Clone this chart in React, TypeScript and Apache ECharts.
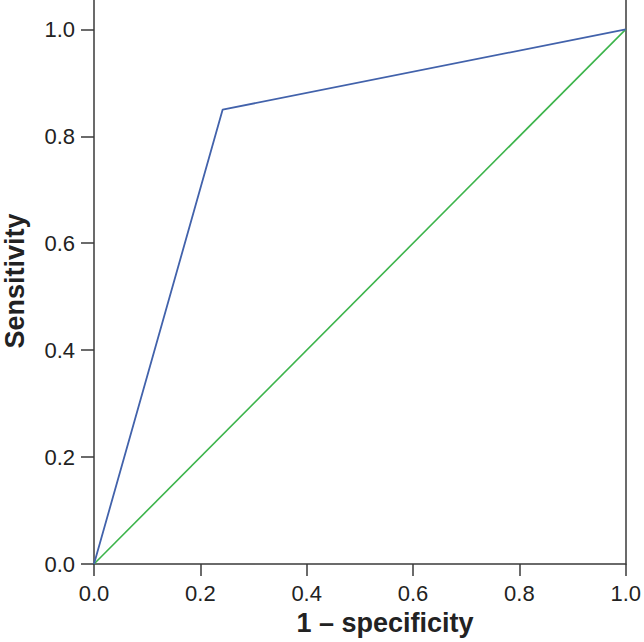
import React, { useEffect, useRef } from "react";
import * as echarts from "echarts";

const rocBlue: [number, number][] = [
  [0, 0],
  [0.242, 0.85],
  [1, 1],
];
const reference: [number, number][] = [
  [0, 0],
  [1, 1],
];
const tickValues = [0, 0.2, 0.4, 0.6, 0.8, 1.0];
const xTitle = "1 – specificity";
const yTitle = "Sensitivity";

export default function App() {
  const ref = useRef<HTMLDivElement>(null);
  useEffect(() => {
    if (!ref.current) return;
    const chart = echarts.init(ref.current, undefined, { renderer: "svg" });
    const axisColor = "#3a3a3a";
    const labelColor = "#222";
    const font = "'Liberation Sans', Arial, sans-serif";
    chart.setOption({
      animation: false,
      backgroundColor: "#fff",
      grid: { left: 94, right: 15, top: 0, bottom: 78, containLabel: false },
      xAxis: {
        type: "value",
        min: 0,
        max: 1,
        interval: 0.2,
        axisLine: { show: true, lineStyle: { color: axisColor, width: 1.5 } },
        axisTick: { show: true, length: 12, lineStyle: { color: axisColor, width: 1.5 } },
        axisLabel: {
          fontSize: 22,
          color: labelColor,
          fontFamily: font,
          margin: 18,
          formatter: (v: number) => v.toFixed(1),
        },
        splitLine: { show: false },
      },
      yAxis: [
        {
          type: "value",
          min: 0,
          max: 1.055,
          axisLine: { show: true, lineStyle: { color: axisColor, width: 1.5 } },
          axisTick: {
            show: true,
            length: 13,
            customValues: tickValues,
            lineStyle: { color: axisColor, width: 1.5 },
          },
          axisLabel: {
            fontSize: 22,
            color: labelColor,
            fontFamily: font,
            margin: 19,
            customValues: tickValues,
            formatter: (v: number) => v.toFixed(1),
          },
          splitLine: { show: false },
        },
        {
          type: "value",
          position: "right",
          min: 0,
          max: 1.055,
          axisLine: { show: true, lineStyle: { color: axisColor, width: 1.5 } },
          axisTick: { show: false },
          axisLabel: { show: false },
          splitLine: { show: false },
        },
      ],
      series: [
        {
          type: "line",
          data: reference,
          showSymbol: false,
          lineStyle: { color: "#3cb44b", width: 1.6 },
          z: 2,
        },
        {
          type: "line",
          data: rocBlue,
          showSymbol: false,
          lineStyle: { color: "#4262ab", width: 1.8 },
          z: 3,
        },
      ],
      graphic: [
        {
          type: "text",
          x: 385,
          y: 623,
          style: {
            text: xTitle,
            font: `bold 27px ${font}`,
            fill: "#222",
            align: "center",
            verticalAlign: "middle",
          },
        },
        {
          type: "text",
          x: 15,
          y: 281,
          rotation: Math.PI / 2,
          style: {
            text: yTitle,
            font: `bold 27px ${font}`,
            fill: "#222",
            align: "center",
            verticalAlign: "middle",
          },
        },
      ],
    });
    return () => chart.dispose();
  }, []);
  return (
    <div
      ref={ref}
      style={{ position: "fixed", left: 0, top: 0, width: 644, height: 642 }}
    />
  );
}
